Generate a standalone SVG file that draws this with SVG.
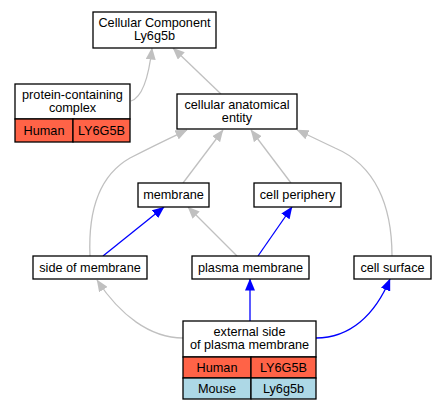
<svg xmlns="http://www.w3.org/2000/svg" width="448" height="411" viewBox="0 0 448 411">
<style>
text{font-family:"Liberation Sans",Arial,sans-serif;font-size:12.7px;fill:#000;text-anchor:middle}
.box{fill:#fff;stroke:#000;stroke-width:1.3}
.hu{fill:#ff6347;stroke:#000;stroke-width:1.3}
.mo{fill:#add8e6;stroke:#000;stroke-width:1.3}
.g{fill:none;stroke:#c0c0c0;stroke-width:1.3}
.b{fill:none;stroke:#0000ff;stroke-width:1.3}
</style>
<defs>
<marker id="ag" markerWidth="12" markerHeight="10" refX="11.5" refY="5" orient="auto" markerUnits="userSpaceOnUse"><path d="M0,0 L12,5 L0,10 Z" fill="#c0c0c0"/></marker>
<marker id="ab" markerWidth="12" markerHeight="10" refX="11.5" refY="5" orient="auto" markerUnits="userSpaceOnUse"><path d="M0,0 L12,5 L0,10 Z" fill="#0000ff"/></marker>
</defs>
<rect width="448" height="411" fill="#fff"/>
<g id="edges">
<path class="g" d="M131,101 C143,97 149,75 152,48" marker-end="url(#ag)"/>
<path class="g" d="M221,94 L173,48" marker-end="url(#ag)"/>
<path class="g" d="M183,183 L223,130" marker-end="url(#ag)"/>
<path class="g" d="M291,183 L251,130" marker-end="url(#ag)"/>
<path class="g" d="M90,256 C88,210 100,175 130,158 C155,145 170,138 187,130" marker-end="url(#ag)"/>
<path class="g" d="M392,256 C392,205 375,165 335,148 C320,141 308,135 297,130" marker-end="url(#ag)"/>
<path class="b" d="M103,256 L164,207" marker-end="url(#ab)"/>
<path class="g" d="M237,256 L188,207" marker-end="url(#ag)"/>
<path class="b" d="M258,256 L292,207" marker-end="url(#ab)"/>
<path class="g" d="M183,338 C150,338 120,315 97,280" marker-end="url(#ag)"/>
<path class="b" d="M250,321 L250,279" marker-end="url(#ab)"/>
<path class="b" d="M316,338 C350,338 375,315 390,279" marker-end="url(#ab)"/>
</g>
<g id="cellular_component">
<rect class="box" x="93" y="12" width="123" height="36"/>
<text x="154.5" y="27">Cellular Component</text>
<text x="154.5" y="40">Ly6g5b</text>
</g>
<g id="protein_containing_complex">
<rect class="box" x="15" y="84" width="115" height="35"/>
<text x="72.5" y="98.5">protein-containing</text>
<text x="72.5" y="111.5">complex</text>
<rect class="hu" x="15" y="119" width="58" height="23"/>
<rect class="hu" x="73" y="119" width="57" height="23"/>
<text x="44" y="135">Human</text>
<text x="101.5" y="135">LY6G5B</text>
</g>
<g id="cellular_anatomical_entity">
<rect class="box" x="177" y="94" width="120" height="35"/>
<text x="237" y="108.5">cellular anatomical</text>
<text x="237" y="121.5">entity</text>
</g>
<g id="membrane">
<rect class="box" x="138" y="183" width="71" height="24"/>
<text x="173.5" y="199">membrane</text>
</g>
<g id="cell_periphery">
<rect class="box" x="254" y="183" width="87" height="24"/>
<text x="297.5" y="199">cell periphery</text>
</g>
<g id="side_of_membrane">
<rect class="box" x="33" y="256" width="114" height="23"/>
<text x="90" y="272">side of membrane</text>
</g>
<g id="plasma_membrane">
<rect class="box" x="192" y="256" width="117" height="23"/>
<text x="250.5" y="272">plasma membrane</text>
</g>
<g id="cell_surface">
<rect class="box" x="354" y="256" width="77" height="23"/>
<text x="392.5" y="272">cell surface</text>
</g>
<g id="external_side_of_plasma_membrane">
<rect class="box" x="183" y="321" width="133" height="36"/>
<text x="249.5" y="336">external side</text>
<text x="249.5" y="349">of plasma membrane</text>
<rect class="hu" x="183" y="357" width="68" height="21"/>
<rect class="hu" x="251" y="357" width="65" height="21"/>
<text x="217" y="372">Human</text>
<text x="283.5" y="372">LY6G5B</text>
<rect class="mo" x="183" y="378" width="68" height="21"/>
<rect class="mo" x="251" y="378" width="65" height="21"/>
<text x="217" y="393">Mouse</text>
<text x="283.5" y="393">Ly6g5b</text>
</g>
</svg>
